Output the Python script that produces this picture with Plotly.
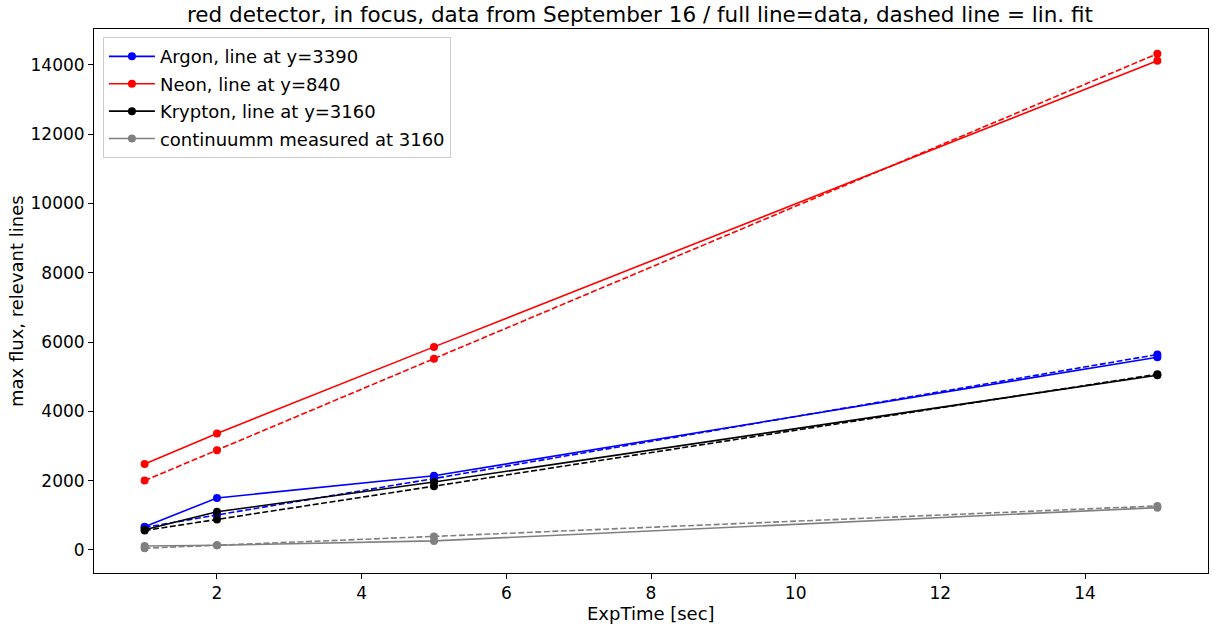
import plotly.graph_objects as go

exptime = [1, 2, 5, 15]

argon_data = [670, 1500, 2140, 5560]
argon_fit = [650, 1010, 2060, 5640]
neon_data = [2480, 3360, 5860, 14120]
neon_fit = [2000, 2880, 5520, 14320]
krypton_data = [580, 1100, 1960, 5040]
krypton_fit = [560, 880, 1840, 5070]
cont_data = [115, 135, 260, 1220]
cont_fit = [50, 135, 390, 1270]

series = [
    ("Argon, line at y=3390", argon_data, argon_fit, "#0000ff"),
    ("Neon, line at y=840", neon_data, neon_fit, "#ff0000"),
    ("Krypton, line at y=3160", krypton_data, krypton_fit, "#000000"),
    ("continuumm measured at 3160", cont_data, cont_fit, "#808080"),
]

x_ticks = [2, 4, 6, 8, 10, 12, 14]
y_ticks = [0, 2000, 4000, 6000, 8000, 10000, 12000, 14000]

fig = go.Figure()
for i, (name, data, fit, color) in enumerate(series):
    fig.add_trace(go.Scatter(
        x=exptime, y=data, mode="lines+markers", name=name,
        legendgroup=f"g{i}",
        line=dict(color=color, width=1.6),
        marker=dict(color=color, size=8),
    ))
    fig.add_trace(go.Scatter(
        x=exptime, y=fit, mode="lines+markers", name=name + " fit",
        legendgroup=f"g{i}", showlegend=False,
        line=dict(color=color, width=1.6, dash="6px,2.5px"),
        marker=dict(color=color, size=8),
    ))

axis_common = dict(
    showline=True, linecolor="black", linewidth=1, mirror=True,
    ticks="outside", ticklen=5, tickcolor="black", tickwidth=1,
    showgrid=False, zeroline=False, automargin=False,
    tickfont=dict(size=17, color="black"),
    tickformat="d",
)

fig.update_layout(
    width=1219, height=627,
    paper_bgcolor="white", plot_bgcolor="white",
    font=dict(family="DejaVu Sans", color="black"),
    margin=dict(l=94, r=11, t=29, b=54),
    title=dict(
        text="red detector, in focus, data from September 16 / full line=data, dashed line = lin. fit",
        x=0.525, xanchor="center", y=0.977, yanchor="middle",
        font=dict(size=21.5, color="black"),
    ),
    xaxis=dict(range=[0.3, 15.7], tickvals=x_ticks, **axis_common),
    yaxis=dict(range=[-666, 15034], tickvals=y_ticks, **axis_common),
    legend=dict(
        x=0.008, y=0.985, xanchor="left", yanchor="top",
        bgcolor="rgba(255,255,255,0.8)", bordercolor="#cccccc", borderwidth=1,
        font=dict(size=18, color="black"),
        itemwidth=46, tracegroupgap=1,
    ),
    annotations=[
        dict(text="ExpTime [sec]", xref="paper", yref="paper", x=0.5, y=0,
             xanchor="center", yanchor="middle", yshift=-40, showarrow=False,
             font=dict(size=18, color="black")),
        dict(text="max flux, relevant lines", xref="paper", yref="paper", x=0, y=0.5,
             xanchor="center", yanchor="middle", xshift=-78, textangle=-90,
             showarrow=False, font=dict(size=18, color="black")),
    ],
)

fig.write_html(
    "out.html",
    config={"displayModeBar": False},
    post_script="document.body.style.margin='0';document.body.style.padding='0';",
)
